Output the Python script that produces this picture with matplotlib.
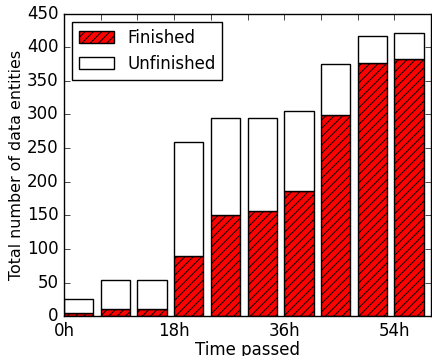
import numpy as np
import matplotlib
matplotlib.use('Agg')
from matplotlib import pyplot as plt

plt.style.use('classic')
plt.rcParams['hatch.linewidth'] = 0.7

# time stamps (hours) and counts
hours = [0, 6, 12, 18, 24, 30, 36, 42, 48, 54]
finished = [5, 11, 11, 89, 151, 156, 186, 299, 376, 382]
total = [25, 53, 53, 259, 294, 295, 305, 375, 416, 421]
unfinished = [t - f for t, f in zip(total, finished)]
tick_labels = ['0h', '', '', '18h', '', '', '36h', '', '', '54h']

fig = plt.figure(figsize=(4.32, 3.56), dpi=100, facecolor='white')
ax = fig.add_axes([0.148, 0.112, 0.85, 0.85])

ax.bar(hours, finished, width=4.8, align='edge', color='red',
       edgecolor='black', hatch='////', label='Finished')
ax.bar(hours, unfinished, width=4.8, align='edge', bottom=finished,
       color='white', edgecolor='black', label='Unfinished')

ax.set_xlim(0, 60)
ax.set_ylim(0, 450)
ax.set_xticks(hours)
ax.set_xticklabels(tick_labels)
ax.set_yticks(np.arange(0, 451, 50))
ax.set_xlabel('Time passed', labelpad=1)
ax.set_ylabel('Total number of data entities', fontsize=11.4, labelpad=2)
ax.legend(loc='upper left', fontsize=12, handlelength=2.1)

fig.savefig('out.png', dpi=100, facecolor='white')
